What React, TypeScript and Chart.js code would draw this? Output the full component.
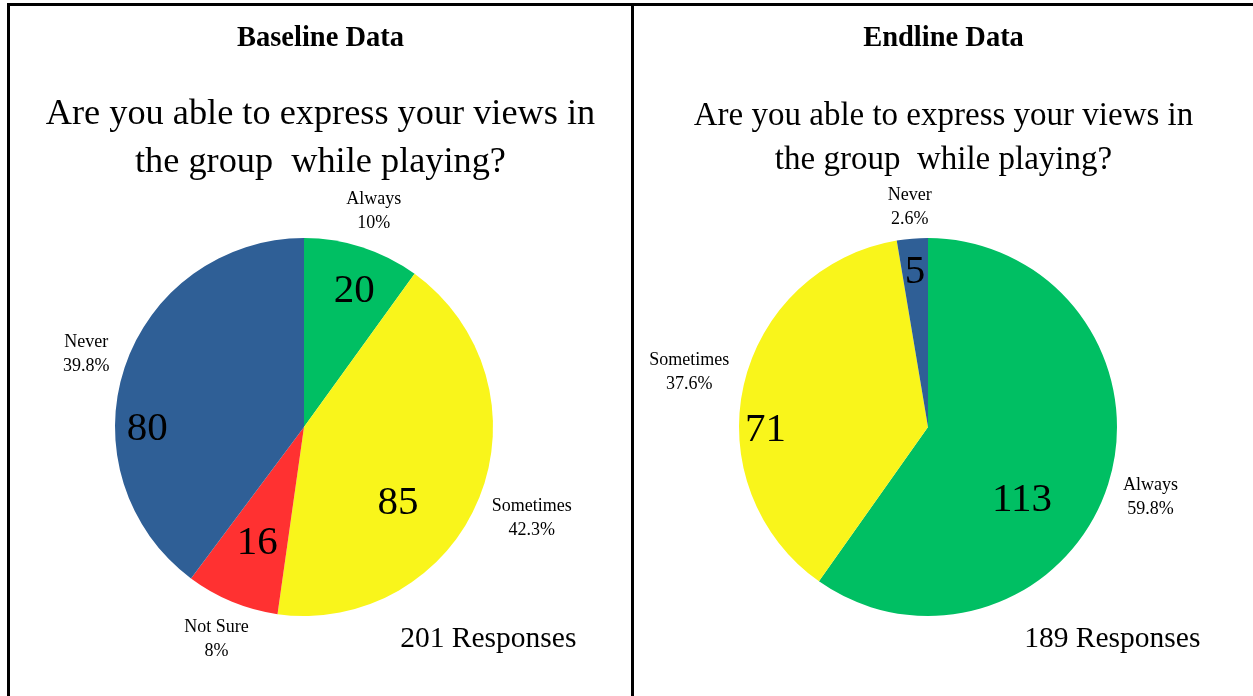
import React, { useEffect, useRef } from 'react';
import { Chart, registerables } from 'chart.js';

Chart.register(...registerables);

// ---------- data ----------
const baselineCategories = ['Always', 'Sometimes', 'Not Sure', 'Never'];
const baselineValues = [20, 85, 16, 80];
const baselineColors = ['#00BF63', '#F9F51B', '#FF3131', '#2F5F96'];

const endlineCategories = ['Always', 'Sometimes', 'Never'];
const endlineValues = [113, 71, 5];
const endlineColors = ['#00BF63', '#F9F51B', '#2F5F96'];

// value-label placement: [degrees turned from slice mid-angle, fraction of radius]
const baselineValueLabelShift = [[2, 0.78], [16, 0.63], [0, 0.65], [-18, 0.83]];
const endlineValueLabelShift = [[19, 0.62], [-13, 0.86], [0, 0.835]];

const FONT = '"Liberation Serif", "Times New Roman", Times, serif';

const pieLabelsPlugin = {
  id: 'pieLabels',
  afterDatasetsDraw(chart: any, _args: any, opts: any) {
    const ctx = chart.ctx as CanvasRenderingContext2D;
    const meta = chart.getDatasetMeta(0);
    const values = chart.data.datasets[0].data as number[];
    const labels = chart.data.labels as string[];
    const total = values.reduce((a, b) => a + b, 0);
    ctx.save();
    ctx.fillStyle = '#000';
    ctx.textAlign = 'center';
    ctx.textBaseline = 'middle';
    let cx = 0, cy = 0, r = 0;
    meta.data.forEach((arc: any, i: number) => {
      const p = arc.getProps(['x', 'y', 'startAngle', 'endAngle', 'outerRadius'], true);
      cx = p.x; cy = p.y; r = p.outerRadius;
      const mid = (p.startAngle + p.endAngle) / 2;
      const [shift, frac] = opts.shifts[i];
      const a = mid + (shift * Math.PI) / 180;
      ctx.font = `41px ${FONT}`;
      ctx.fillText(String(values[i]), p.x + Math.cos(a) * r * frac, p.y + Math.sin(a) * r * frac + 3);

      const pct = parseFloat(((values[i] / total) * 100).toFixed(1)) + '%';
      ctx.font = `18px ${FONT}`;
      const w = Math.max(ctx.measureText(labels[i]).width, ctx.measureText(pct).width);
      const hw = w / 2;
      const hh = 17;
      const c = Math.cos(mid), s = Math.sin(mid);
      const d = r + 13 + hw * Math.abs(c) + hh * Math.abs(s);
      const lx = p.x + c * d, ly = p.y + s * d;
      ctx.fillText(labels[i], lx, ly - 12);
      ctx.fillText(pct, lx, ly + 12);
    });
    ctx.font = `29.5px ${FONT}`;
    ctx.fillText(`${total} Responses`, cx + r * 0.975, cy + r * 1.105 + 3);
    ctx.restore();
  },
};

type PanelProps = {
  left: number;
  width: number;
  categories: string[];
  values: number[];
  colors: string[];
  shifts: number[][];
};

function PiePanel({ left, width, categories, values, colors, shifts }: PanelProps) {
  const ref = useRef<HTMLCanvasElement | null>(null);
  const height = 690;
  useEffect(() => {
    if (!ref.current) return;
    const chart = new Chart(ref.current, {
      type: 'pie',
      data: {
        labels: categories,
        datasets: [{ data: values, backgroundColor: colors, borderWidth: 0 }],
      },
      options: {
        responsive: false,
        animation: false,
        layout: { padding: { left: 105, right: width - 483, top: 232, bottom: 80 } },
        plugins: {
          legend: { display: false },
          tooltip: { enabled: false },
          // @ts-ignore
          pieLabels: { shifts },
        },
      },
      plugins: [pieLabelsPlugin as any],
    });
    return () => chart.destroy();
  }, []);
  return (
    <canvas
      ref={ref}
      width={width}
      height={height}
      style={{ position: 'absolute', left, top: 6, width, height }}
    />
  );
}

export default function App() {
  const heading: React.CSSProperties = {
    position: 'absolute',
    textAlign: 'center',
    fontFamily: FONT,
    color: '#000',
    whiteSpace: 'pre',
  };
  return (
    <div
      style={{
        position: 'fixed',
        left: 0,
        top: 0,
        width: 1253,
        height: 696,
        background: '#fff',
        overflow: 'hidden',
      }}
    >
      {/* frame */}
      <div style={{ position: 'absolute', left: 7, top: 3, width: 1246, height: 3, background: '#000' }} />
      <div style={{ position: 'absolute', left: 7, top: 3, width: 3, height: 693, background: '#000' }} />
      <div style={{ position: 'absolute', left: 631, top: 3, width: 3, height: 693, background: '#000' }} />

      <PiePanel
        left={10}
        width={621}
        categories={baselineCategories}
        values={baselineValues}
        colors={baselineColors}
        shifts={baselineValueLabelShift}
      />
      <PiePanel
        left={634}
        width={619}
        categories={endlineCategories}
        values={endlineValues}
        colors={endlineColors}
        shifts={endlineValueLabelShift}
      />

      <div style={{ ...heading, left: 10, width: 621, top: 22, lineHeight: '30px', fontSize: 28.5, fontWeight: 'bold' }}>
        Baseline Data
      </div>
      <div style={{ ...heading, left: 634, width: 619, top: 22, lineHeight: '30px', fontSize: 28.5, fontWeight: 'bold' }}>
        Endline Data
      </div>
      <div style={{ ...heading, left: 10, width: 621, top: 88, lineHeight: '48px', fontSize: 36.3 }}>
        {'Are you able to express your views in\nthe group  while playing?'}
      </div>
      <div style={{ ...heading, left: 634, width: 619, top: 92, lineHeight: '44px', fontSize: 33 }}>
        {'Are you able to express your views in\nthe group  while playing?'}
      </div>
    </div>
  );
}
